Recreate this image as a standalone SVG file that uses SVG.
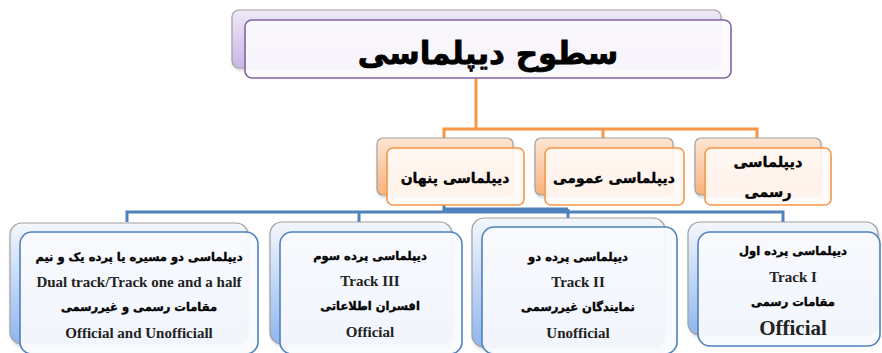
<svg xmlns="http://www.w3.org/2000/svg" width="882" height="353" viewBox="0 0 882 353">
<defs>
<linearGradient id="gP" x1="0" y1="0" x2="0" y2="1"><stop offset="0" stop-color="#efe9f8"/><stop offset="1" stop-color="#c8b6e6"/></linearGradient>
<linearGradient id="gO" x1="0" y1="0" x2="0" y2="1"><stop offset="0" stop-color="#fde6d4"/><stop offset="1" stop-color="#f9b27c"/></linearGradient>
<linearGradient id="gB" x1="0" y1="0" x2="0" y2="1"><stop offset="0" stop-color="#f4f7fc"/><stop offset="1" stop-color="#8fb6ee"/></linearGradient>
<filter id="sh" x="-5%" y="-5%" width="110%" height="115%"><feDropShadow dx="1" dy="2" stdDeviation="1.5" flood-color="#000" flood-opacity="0.18"/></filter>
</defs>
<style>
.back{stroke:#a0a0a0;stroke-width:1.2;filter:url(#sh)}
.fP{fill:#fbfafd;fill-opacity:0.93;stroke:#8064a2;stroke-width:1.6}
.fO{fill:#fffaf6;fill-opacity:0.9;stroke:#f79646;stroke-width:1.6}
.fB{fill:#f9fafd;fill-opacity:0.93;stroke:#4f81bd;stroke-width:1.6}
.fa{font-family:"DejaVu Sans","Noto Sans",sans-serif;font-weight:bold;fill:#000;stroke:#000;stroke-width:0.35;text-anchor:middle}
.en{font-family:"Liberation Serif","Times New Roman",serif;font-weight:bold;fill:#222;text-anchor:middle}
.co{fill:none;stroke:#f79646;stroke-width:3}
.cb{fill:none;stroke:#4f81bd;stroke-width:3}
</style>
<g id="connectors">
<path class="co" d="M476 78V129M444 138V129H757V140M603 129V138"/>
<path class="cb" d="M444 205V212M127 222V212H783V222M359 212V222M568 209V218M444 209H568"/>
</g>
<g id="title">
<rect class="back" x="232" y="10" width="489" height="58" rx="7" fill="url(#gP)"/>
<rect class="fP" x="245" y="20" width="486" height="58" rx="7"/>
<text class="fa" x="488" y="64" font-size="31" style="stroke-width:0.8">سطوح دیپلماسی</text>
</g>
<g id="covert">
<rect class="back" x="377" y="138" width="136" height="57" rx="6" fill="url(#gO)"/>
<rect class="fO" x="387" y="148" width="137" height="57" rx="6"/>
<text class="fa" x="455" y="183" font-size="14">دیپلماسی پنهان</text>
</g>
<g id="public">
<rect class="back" x="535" y="138" width="138" height="57" rx="6" fill="url(#gO)"/>
<rect class="fO" x="545" y="148" width="139" height="57" rx="6"/>
<text class="fa" x="614" y="183" font-size="14">دیپلماسی عمومی</text>
</g>
<g id="official">
<rect class="back" x="695" y="138" width="126" height="57" rx="6" fill="url(#gO)"/>
<rect class="fO" x="705" y="148" width="126" height="57" rx="6"/>
<text class="fa" x="768" y="167" font-size="14.5">دیپلماسی</text>
<text class="fa" x="768" y="197" font-size="14.5">رسمی</text>
</g>
<g id="dual">
<rect class="back" x="10" y="223" width="238" height="121" rx="12" fill="url(#gB)"/>
<rect class="fB" x="20" y="232" width="238" height="122" rx="12"/>
<text class="fa" x="139" y="261" font-size="11.5">دیپلماسی دو مسیره یا پرده یک و نیم</text>
<text class="en" x="139" y="287" font-size="15">Dual track/Track one and  a half</text>
<text class="fa" x="139" y="311" font-size="11.5">مقامات رسمی و غیررسمی</text>
<text class="en" x="139" y="338" font-size="15">Official and Unofficiall</text>
</g>
<g id="track3">
<rect class="back" x="270" y="222" width="182" height="122" rx="12" fill="url(#gB)"/>
<rect class="fB" x="280" y="232" width="182" height="122" rx="12"/>
<text class="fa" x="370" y="260" font-size="11.5">دیپلماسی پرده سوم</text>
<text class="en" x="370" y="286" font-size="15">Track III</text>
<text class="fa" x="370" y="310" font-size="11.5">افسران اطلاعاتی</text>
<text class="en" x="370" y="337" font-size="15">Official</text>
</g>
<g id="track2">
<rect class="back" x="472" y="218" width="193" height="129" rx="12" fill="url(#gB)"/>
<rect class="fB" x="482" y="227" width="195" height="127" rx="12"/>
<text class="fa" x="578" y="261" font-size="11.5">دیپلماسی پرده دو</text>
<text class="en" x="578" y="287" font-size="15">Track II</text>
<text class="fa" x="578" y="311" font-size="11.5">نمایندگان غیررسمی</text>
<text class="en" x="578" y="338" font-size="15">Unofficial</text>
</g>
<g id="track1">
<rect class="back" x="688" y="222" width="190" height="113" rx="12" fill="url(#gB)"/>
<rect class="fB" x="698" y="232" width="182" height="114" rx="12"/>
<text class="fa" x="793" y="255" font-size="11.5">دیپلماسی پرده اول</text>
<text class="en" x="793" y="282" font-size="15">Track I</text>
<text class="fa" x="793" y="306" font-size="11.5">مقامات رسمی</text>
<text class="en" x="793" y="335" font-size="21">Official</text>
</g>
</svg>
